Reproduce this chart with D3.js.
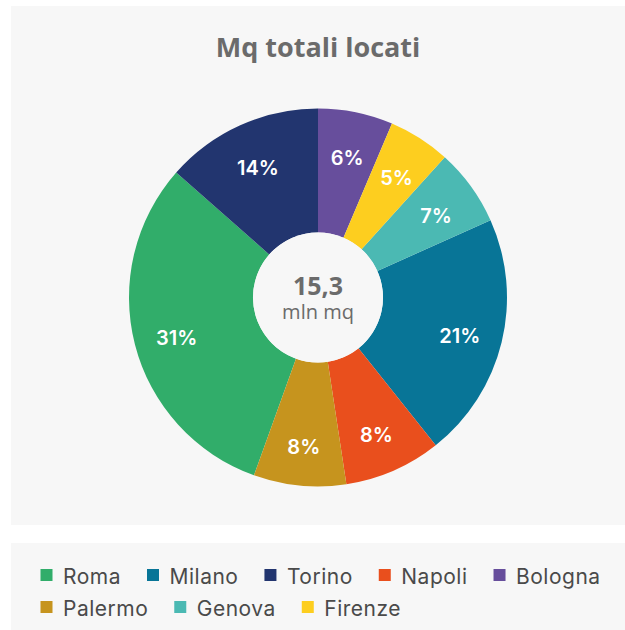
<!DOCTYPE html>
<meta charset="utf-8">
<style>
  body { margin: 0; background: white; }
  svg { display: block; }
  .title { font-family: "Open Sans", sans-serif; font-weight: 700; font-size: 27px; fill: #6b6b6b; }
  .pct { font-family: Inter, sans-serif; font-weight: 600; font-size: 20px; fill: white; }
  .tot { font-family: "Open Sans", sans-serif; font-weight: 700; font-size: 25px; fill: #6b6b6b; }
  .unit { font-family: "Open Sans", sans-serif; font-size: 20px; fill: #6b6b6b; }
  .leg text { font-family: Inter, sans-serif; font-weight: 400; font-size: 21px; letter-spacing: 0.5px; fill: #4a4a4a; }
</style>
<body>
<div id="chart"></div>
<script src="https://d3js.org/d3.v7.min.js"></script>
<script>
  // data (share of total, %), legend order
  var cities = ["Roma", "Milano", "Torino", "Napoli", "Bologna", "Palermo", "Genova", "Firenze"];
  var shares = [31.0, 21.0, 13.5, 8.3, 6.4, 7.9, 6.6, 5.3];
  var colors = ["#31ad6a", "#087597", "#22356f", "#e94f1d", "#674e9c", "#c6941e", "#4bb9b3", "#fdce1f"];
  // order of slices clockwise from 12 o'clock
  var sliceOrder = ["Bologna", "Firenze", "Genova", "Milano", "Napoli", "Palermo", "Roma", "Torino"];
  var total = "15,3", unit = "mln mq";
  var title = "Mq totali locati";

  var W = 625, H = 630;
  var cx = 318, cy = 297.5, rOut = 189, rIn = 65;

  var svg = d3.select("#chart").append("svg")
      .attr("width", W)
      .attr("height", H);

  // panels
  svg.append("rect").attr("x", 11).attr("y", 6).attr("width", W - 11).attr("height", 519).attr("fill", "#f7f7f7");
  svg.append("rect").attr("x", 11).attr("y", 543).attr("width", W - 11).attr("height", H - 543).attr("fill", "#f7f7f7");

  svg.append("text").attr("class", "title")
      .attr("x", cx).attr("y", 57)
      .attr("text-anchor", "middle")
      .text(title);

  var data = cities.map(function(c, i) { return {city: c, value: shares[i], color: colors[i]}; });

  var pie = d3.pie()
      .value(function(d) { return d.value; })
      .sort(function(a, b) { return sliceOrder.indexOf(a.city) - sliceOrder.indexOf(b.city); });

  var arc = d3.arc().innerRadius(rIn).outerRadius(rOut);
  var labelArc = d3.arc().innerRadius(146).outerRadius(146);

  var g = svg.append("g").attr("transform", "translate(" + cx + "," + cy + ")");
  var arcs = pie(data);

  g.selectAll("path.slice")
    .data(arcs)
    .enter()
    .append("path")
      .attr("class", "slice")
      .attr("d", arc)
      .attr("fill", function(d) { return d.data.color; });

  g.append("circle").attr("r", rIn).attr("fill", "#f7f7f7");

  g.selectAll("text.pct")
    .data(arcs)
    .enter()
    .append("text")
      .attr("class", "pct")
      .attr("transform", function(d) { return "translate(" + labelArc.centroid(d) + ")"; })
      .attr("text-anchor", "middle")
      .attr("dy", "0.55em")
      .text(function(d) { return Math.round(d.data.value) + "%"; });

  g.append("text").attr("class", "tot").attr("y", -2.5).attr("text-anchor", "middle").text(total);
  g.append("text").attr("class", "unit").attr("y", 21.5).attr("text-anchor", "middle").text(unit);

  // legend, flowing rows
  var leg = svg.append("g").attr("class", "leg");
  var x0 = 40.5, xMax = 615, lx = x0, row = 0, rowH = 32, base = 584;
  data.forEach(function(d) {
    var item = leg.append("g");
    var t = item.append("text").attr("x", 22.5).attr("y", 0).text(d.city);
    var w = 22.5 + t.node().getComputedTextLength();
    if (lx > x0 && lx + w > xMax) { row++; lx = x0; }
    item.attr("transform", "translate(" + lx + "," + (base + row * rowH) + ")");
    item.append("rect").attr("x", 0).attr("y", -15).attr("width", 12).attr("height", 12).attr("fill", d.color);
    lx += w + 26;
  });
</script>
</body>
